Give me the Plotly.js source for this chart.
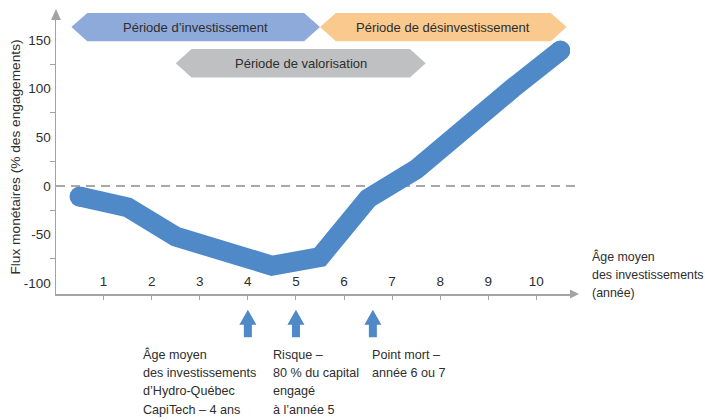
<!DOCTYPE html>
<html>
<head>
<meta charset="utf-8">
<script src="https://cdn.plot.ly/plotly-3.0.1.min.js"></script>
<style>
  html, body { margin: 0; padding: 0; background: #ffffff; }
  #chart { width: 705px; height: 420px; }
</style>
</head>
<body>
<div id="chart"></div>
<script>
// ---- Data ----
const ageYears = [0.5, 1.5, 2.5, 3.5, 4.5, 5.5, 6.5, 7.5, 8.5, 9.5, 10.5];
const cashFlows = [-11, -22, -52, -67, -82, -73, -13, 17, 60, 100, 139];

const xTickVals = [1, 2, 3, 4, 5, 6, 7, 8, 9, 10];
const yTickVals = [-100, -50, 0, 50, 100, 150];
const yMinorVals = [-75, -25, 25, 75, 125];

const periodNames = ["Période d’investissement", "Période de valorisation", "Période de désinvestissement"];
const periodStart = [0.33, 2.5, 5.5];
const periodEnd = [5.5, 7.7, 10.63];

const markerYears = [4, 5, 6.6];
const markerNotes = [
  ["Âge moyen", "des investissements", "d’Hydro-Québec", "CapiTech – 4 ans"],
  ["Risque –", "80 % du capital", "engagé", "à l’année 5"],
  ["Point mort –", "année 6 ou 7"]
];
const axisCaption = ["Âge moyen", "des investissements", "(année)"];

// ---- Styling ----
const FONT = "'Liberation Sans', Arial, sans-serif";
const TXT = "#2e2e2e";
const AXC = "#a3a3a3";
const LINEC = "#4f89c7";
const periodColors = ["#8eaadb", "#bfc0c2", "#f9c98e"];
const periodRows = [0, 1, 0];             // row 0 = top band, row 1 = lower band
const rowMid = [0.974, 0.842];            // paper y of band centres
const rowHalf = 0.052;                    // paper half-height of bands
const tip = 0.33;                         // depth of pointed ends (x units)
const lineStep = 18.3 / 274;              // paper height of one text line

const shapes = [];
const annotations = [];

// dashed zero line
shapes.push({
  type: "line", xref: "paper", yref: "y", x0: 0, x1: 1.0136, y0: 0, y1: 0,
  line: { color: "#a8a8a8", width: 2, dash: "9px,6px" }, layer: "below"
});

// axis arrowheads
shapes.push({
  type: "path", xref: "paper", yref: "paper", xsizemode: "pixel", ysizemode: "pixel",
  xanchor: 0, yanchor: 1, path: "M-5,0 L0,11 L5,0 Z",
  fillcolor: AXC, line: { width: 0 }
});
shapes.push({
  type: "path", xref: "paper", yref: "paper", xsizemode: "pixel", ysizemode: "pixel",
  xanchor: 1, yanchor: 0, path: "M0,-4.5 L9,0 L0,4.5 Z",
  fillcolor: AXC, line: { width: 0 }
});

// period banners
periodNames.forEach(function (name, i) {
  const s = periodStart[i], e = periodEnd[i];
  const m = rowMid[periodRows[i]];
  const t = m + rowHalf, b = m - rowHalf;
  const path = "M" + s + "," + m + " L" + (s + tip) + "," + t + " L" + (e - tip) + "," + t +
               " L" + e + "," + m + " L" + (e - tip) + "," + b + " L" + (s + tip) + "," + b + " Z";
  shapes.push({
    type: "path", xref: "x", yref: "paper", path: path,
    fillcolor: periodColors[i], line: { width: 0 }, layer: "below"
  });
  annotations.push({
    xref: "x", yref: "paper", x: (s + e) / 2, y: m, text: name, showarrow: false,
    xanchor: "center", yanchor: "middle",
    font: { family: FONT, size: 13, color: TXT }
  });
});

// up arrows + notes below the axis
const noteLeft = [1.77, 4.49, 6.54];
markerYears.forEach(function (yr, i) {
  shapes.push({
    type: "path", xref: "x", yref: "paper", xsizemode: "pixel", ysizemode: "pixel",
    xanchor: yr, yanchor: -0.1577,
    path: "M-4,0 L-4,12.5 L-8.5,12.5 L0,27.5 L8.5,12.5 L4,12.5 L4,0 Z",
    fillcolor: LINEC, line: { width: 0 }
  });
  markerNotes[i].forEach(function (ln, k) {
    annotations.push({
      xref: "x", yref: "paper", x: noteLeft[i], y: -0.2218 - k * lineStep, text: ln,
      showarrow: false, xanchor: "left", yanchor: "middle", align: "left",
      font: { family: FONT, size: 12.6, color: TXT }
    });
  });
});

// x-axis caption at the right
axisCaption.forEach(function (ln, k) {
  annotations.push({
    xref: "paper", yref: "paper", x: 1.038, y: 0.1376 - k * lineStep, xanchor: "left", yanchor: "middle",
    align: "left", text: ln, showarrow: false,
    font: { family: FONT, size: 12.4, color: TXT }
  });
});

const trace = {
  type: "scatter", mode: "lines+markers",
  x: ageYears, y: cashFlows,
  line: { color: LINEC, width: 20 },
  marker: {
    color: LINEC, opacity: 1, line: { width: 0 },
    size: ageYears.map(function (_, i) { return (i === 0 || i === ageYears.length - 1) ? 20 : 0; })
  },
  hoverinfo: "skip"
};

const layout = {
  width: 705, height: 420,
  margin: { l: 56, r: 135, t: 20, b: 125.7 },
  paper_bgcolor: "#ffffff", plot_bgcolor: "#ffffff",
  showlegend: false,
  font: { family: FONT, color: TXT },
  xaxis: {
    range: [0.01, 10.7], tickvals: xTickVals, ticktext: xTickVals.map(String),
    showline: true, linecolor: AXC, linewidth: 1.5,
    ticks: "outside", ticklen: 4, tickcolor: AXC, tickwidth: 1,
    ticklabelposition: "inside", ticklabeloverflow: "allow", ticklabelstandoff: 5,
    showgrid: false, zeroline: false,
    tickfont: { family: FONT, size: 13.5, color: TXT }
  },
  yaxis: {
    range: [-111, 170.3], tickvals: yTickVals, ticktext: yTickVals.map(String),
    showline: true, linecolor: AXC, linewidth: 1.5,
    ticks: "", ticklabelstandoff: 1, ticklabeloverflow: "allow",
    minor: { tickmode: "array", tickvals: yMinorVals, ticks: "outside", ticklen: 5, tickcolor: AXC, tickwidth: 1, showgrid: false },
    showgrid: false, zeroline: false,
    tickfont: { family: FONT, size: 13.5, color: TXT },
    title: { text: "Flux monétaires (% des engagements)", standoff: 0,
             font: { family: FONT, size: 13.7, color: TXT } }
  },
  shapes: shapes,
  annotations: annotations
};

Plotly.newPlot("chart", [trace], layout, { displayModeBar: false, staticPlot: true });
</script>
</body>
</html>
